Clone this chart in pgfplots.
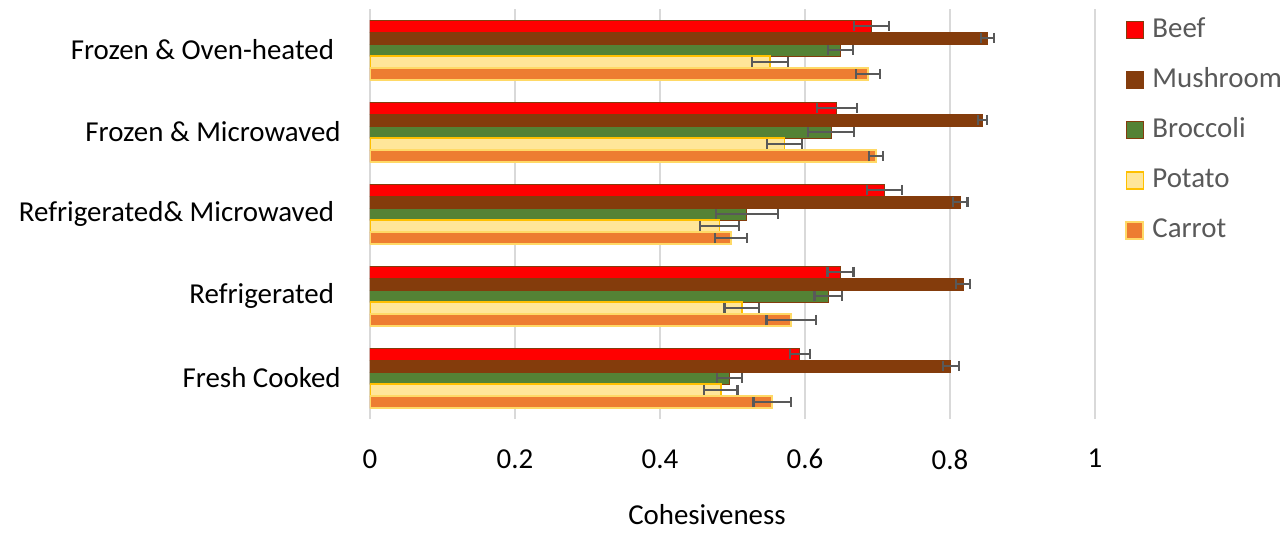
\documentclass[border=0pt]{standalone}
\usepackage{pgfplots}
\pgfplotsset{compat=1.18}
\usepackage{fontspec}
\setmainfont{Carlito}
\definecolor{beef}{HTML}{FF0000}
\definecolor{mush}{HTML}{843C0C}
\definecolor{broc}{HTML}{548235}
\definecolor{pot}{HTML}{FFE699}
\definecolor{potedge}{HTML}{FFC000}
\definecolor{carr}{HTML}{ED7D31}
\definecolor{carredge}{HTML}{FFD966}
\definecolor{gridgray}{HTML}{D9D9D9}
\definecolor{errgray}{HTML}{595959}
\definecolor{leggray}{HTML}{595959}
\newcommand{\lblfont}{\fontsize{14.5}{17}\selectfont}
\begin{document}
\begin{tikzpicture}
\useasboundingbox (-185bp,-57.5bp) rectangle (459bp,209.5bp);
\begin{axis}[
 at={(0,0)}, anchor=south west,
 scale only axis, width=362.5bp, height=205bp,
 xbar, bar width=6bp,
 xmin=0, xmax=1, ymin=-0.5, ymax=4.5,
 xtick={0,0.2,0.4,0.6,0.8,1}, xticklabels={0,0.2,0.4,0.6,0.8,1},
 ytick={0,1,2,3,4},
 yticklabels={Fresh Cooked, Refrigerated\kern3.3bp, Refrigerated\& Microwaved\kern3.3bp, Frozen \& Microwaved, Frozen \& Oven-heated\kern3.3bp},
 major tick length=0,
 axis line style={draw=none},
 xmajorgrids, grid style={color=gridgray, line width=0.75bp},
 tick label style={font=\lblfont, text=black},
 yticklabel style={anchor=east, inner sep=0pt, xshift=-14.5bp},
 xticklabel style={anchor=north, inner sep=0pt, yshift=-15bp},
 xlabel={Cohesiveness},
 xlabel style={at={(rel axis cs:0.4648,0)}, anchor=center, yshift=-48bp, font=\lblfont, inner sep=0pt},
 legend style={at={(rel axis cs:1.0414,1)}, anchor=north west, yshift=-4bp, draw=none, fill=none,
   font=\lblfont, text=leggray, inner sep=0pt, row sep=12bp,
   nodes={inner sep=0pt, text height=10bp, text depth=3bp},
   /tikz/every odd column/.append style={column sep=4bp}},
 legend cell align=left,
 legend image code/.code={\draw[#1] (0bp,-4.25bp) rectangle (8.5bp,4.25bp);},
 error bars/error mark=|,
 error bars/error bar style={color=errgray, line width=1.1bp},
 error bars/error mark options={color=errgray, line width=1.1bp, mark size=2.6bp},
]
\addplot[fill=beef, draw=mush, line width=0.5bp, bar shift=12bp,
  error bars/.cd, x dir=both, x explicit] coordinates {
 (0.593,0) +- (0.014,0)
 (0.649,1) +- (0.018,0)
 (0.710,2) +- (0.024,0)
 (0.644,3) +- (0.028,0)
 (0.692,4) +- (0.024,0)
};
\addlegendentry{Beef}
\addplot[fill=mush, draw=mush, line width=0.5bp, bar shift=6bp,
  error bars/.cd, x dir=both, x explicit] coordinates {
 (0.801,0) +- (0.011,0)
 (0.818,1) +- (0.010,0)
 (0.814,2) +- (0.010,0)
 (0.845,3) +- (0.006,0)
 (0.852,4) +- (0.009,0)
};
\addlegendentry{Mushroom}
\addplot[fill=broc, draw=mush, line width=0.5bp, bar shift=0bp,
  error bars/.cd, x dir=both, x explicit] coordinates {
 (0.496,0) +- (0.017,0)
 (0.632,1) +- (0.019,0)
 (0.520,2) +- (0.043,0)
 (0.636,3) +- (0.032,0)
 (0.649,4) +- (0.017,0)
};
\addlegendentry{Broccoli}
\addplot[fill=pot, draw=potedge, line width=0.75bp, bar shift=-6bp,
  error bars/.cd, x dir=both, x explicit] coordinates {
 (0.484,0) +- (0.023,0)
 (0.513,1) +- (0.024,0)
 (0.482,2) +- (0.027,0)
 (0.572,3) +- (0.024,0)
 (0.552,4) +- (0.025,0)
};
\addlegendentry{Potato}
\addplot[fill=carr, draw=carredge, line width=1bp, bar shift=-12bp,
  error bars/.cd, x dir=both, x explicit] coordinates {
 (0.555,0) +- (0.026,0)
 (0.581,1) +- (0.034,0)
 (0.498,2) +- (0.022,0)
 (0.698,3) +- (0.010,0)
 (0.687,4) +- (0.017,0)
};
\addlegendentry{Carrot}
\end{axis}
\end{tikzpicture}
\end{document}
